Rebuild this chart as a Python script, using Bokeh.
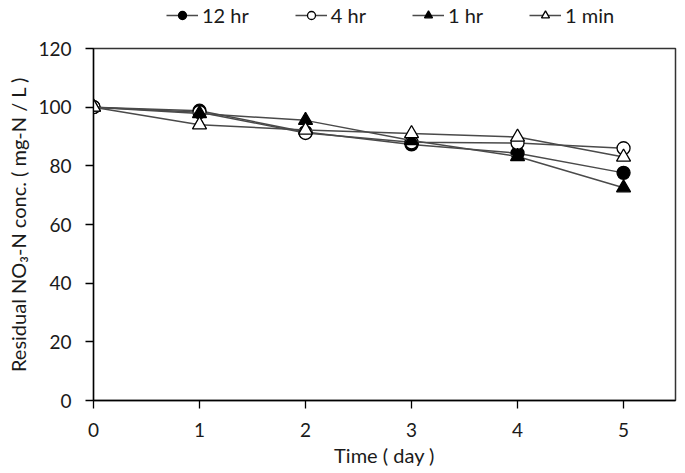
from bokeh.plotting import figure
from bokeh.layouts import column
from bokeh.models import Legend, LegendItem, Range1d, FixedTicker
from bokeh.embed import file_html
from bokeh.resources import INLINE

days = [0, 1, 2, 3, 4, 5]
hr12 = [100, 98.8, 91.5, 87.3, 84.3, 77.6]
hr4 = [100, 98.3, 91.2, 88.0, 87.8, 86.0]
hr1 = [100, 97.8, 95.5, 88.6, 83.2, 72.5]
min1 = [100, 94.0, 92.2, 91.0, 89.8, 83.0]

series_names = ["12 hr", "4 hr", "1 hr", "1 min"]
x_ticks = [0, 1, 2, 3, 4, 5]
y_ticks = [0, 20, 40, 60, 80, 100, 120]

FONT = "Lato"
TXT = "#1a1a1a"
line_color = "#4a4a4a"

specs = [
    (hr12, "circle", "black", 13),
    (hr4, "circle", "white", 13),
    (hr1, "triangle", "black", 14),
    (min1, "triangle", "white", 14),
]

# legend strip (frame aligned with the main plot's frame by the column layout)
LH = 34
lf = figure(width=685, height=LH, output_backend="svg", toolbar_location=None,
            x_range=Range1d(0, 1), y_range=Range1d(0, 1),
            min_border_left=0, min_border_right=0, min_border_top=0, min_border_bottom=0)
lf.axis.visible = False
lf.grid.visible = False
lf.outline_line_color = None

# main plot
p = figure(width=685, height=473 - LH, output_backend="svg",
           toolbar_location=None, x_range=Range1d(0, 5.49), y_range=Range1d(0, 120),
           min_border_left=93, min_border_right=10, min_border_top=48 - LH, min_border_bottom=73)
p.xgrid.visible = False
p.ygrid.visible = False
p.outline_line_color = "#333333"
p.outline_line_width = 1.5

items = []
for (ys, marker, fill, size), name in zip(specs, series_names):
    p.line(days, ys, line_color=line_color, line_width=1.5)
    p.scatter(days, ys, marker=marker, size=size, fill_color=fill,
              line_color="black", line_width=1.3)
    ln = lf.line([-5, -4], [-5, -4], line_color=line_color, line_width=1.5)
    sc = lf.scatter([-5], [-5], marker=marker, size=size, fill_color=fill,
                    line_color="black", line_width=1.3)
    items.append(LegendItem(label=name, renderers=[ln, sc]))

legend = Legend(items=items, orientation="horizontal", border_line_color=None,
                background_fill_alpha=0, label_text_font=FONT, label_text_font_size="20px",
                label_text_color=TXT, glyph_width=32, glyph_height=20,
                spacing=46, padding=0, margin=0, location=(166 - 93, LH - 17 - 10),
                label_standoff=4, label_height=20)
lf.add_layout(legend)

for ax in (p.xaxis, p.yaxis):
    ax.axis_line_color = "black"
    ax.axis_line_width = 1.3
    ax.major_tick_line_color = "black"
    ax.major_tick_line_width = 1.3
    ax.major_tick_in = 0
    ax.major_tick_out = 8
    ax.minor_tick_line_color = None
    ax.major_label_text_font = FONT
    ax.major_label_text_font_size = "19px"
    ax.major_label_text_color = TXT
    ax.axis_label_text_font = FONT
    ax.axis_label_text_font_size = "20px"
    ax.axis_label_text_font_style = "normal"
    ax.axis_label_text_color = TXT

p.xaxis.ticker = FixedTicker(ticks=x_ticks)
p.yaxis.ticker = FixedTicker(ticks=y_ticks)
p.xaxis.axis_label = "Time ( day )"
p.yaxis.axis_label = "Residual NO\u2083-N conc. ( mg-N / L )"
p.xaxis.major_label_standoff = 14
p.yaxis.major_label_standoff = 14
p.xaxis.axis_label_standoff = 3
p.yaxis.axis_label_standoff = 5

layout = column(lf, p, spacing=0)
open("out.html", "w").write(file_html(layout, INLINE))
